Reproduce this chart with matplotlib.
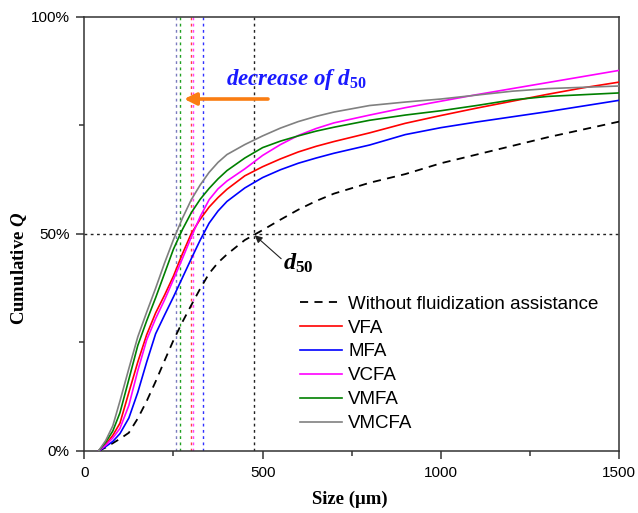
import matplotlib
matplotlib.use("Agg")
import matplotlib.pyplot as plt
from matplotlib.ticker import FixedLocator, FuncFormatter

plt.rcParams["font.family"] = ["Liberation Sans", "DejaVu Sans"]
plt.rcParams["mathtext.fontset"] = "custom"
plt.rcParams["mathtext.rm"] = "Liberation Serif"
plt.rcParams["mathtext.it"] = "Liberation Serif:italic"
plt.rcParams["mathtext.bf"] = "Liberation Serif:bold"
plt.rcParams["mathtext.bfit"] = "Liberation Serif:italic:bold"

# particle size (um) and cumulative Q (%)
size_um = [40, 60, 80, 100, 125, 150, 175, 200, 225, 250, 275, 300, 325, 350, 375,
           400, 450, 500, 550, 600, 650, 700, 800, 900, 1000, 1100, 1200, 1300,
           1400, 1500]
q_without = [0, 0.8, 1.8, 2.8, 4.2, 7.5, 11.5, 16.0, 20.8, 25.5, 29.7, 33.6, 37.4, 40.9,
             43.4, 45.3, 48.6, 50.9, 53.3, 55.6, 57.6, 59.3, 61.8, 63.8, 66.3, 68.3,
             70.3, 72.3, 74.1, 75.9]
q_vfa = [0, 1.5, 3.6, 6.4, 13.5, 20.5, 26.8, 31.8, 35.9, 40.3, 45.4, 50.1, 53.4, 56.2,
         58.4, 60.3, 63.4, 65.5, 67.3, 68.9, 70.2, 71.3, 73.3, 75.5, 77.3, 79.0,
         80.6, 82.2, 83.7, 85.0]
q_mfa = [0, 1.0, 2.2, 4.0, 7.6, 13.5, 20.5, 27.0, 31.3, 35.5, 39.9, 44.3, 48.6, 52.5,
         55.3, 57.5, 60.6, 63.0, 64.8, 66.3, 67.5, 68.6, 70.5, 72.9, 74.5, 75.8,
         77.0, 78.2, 79.5, 80.8]
q_vcfa = [0, 1.3, 3.0, 5.2, 10.5, 18.5, 25.6, 30.5, 34.8, 39.5, 44.3, 49.3, 54.0, 57.9,
          60.4, 62.2, 65.0, 68.1, 70.6, 72.7, 74.3, 75.6, 77.4, 79.1, 80.6, 82.1,
          83.5, 84.9, 86.3, 87.7]
q_vmfa = [0, 2.0, 4.6, 8.8, 16.5, 24.3, 30.0, 35.3, 40.9, 46.5, 51.0, 54.9, 58.0, 60.5,
          62.7, 64.6, 67.5, 69.9, 71.4, 72.6, 73.7, 74.6, 76.2, 77.4, 78.4, 79.6,
          80.9, 81.7, 82.1, 82.5]
q_vmcfa = [0, 2.4, 5.8, 11.5, 19.0, 26.3, 32.0, 37.5, 43.3, 48.7, 53.6, 57.9, 61.3, 64.2,
           66.5, 68.3, 70.6, 72.6, 74.4, 75.9, 77.1, 78.1, 79.6, 80.4, 81.1, 82.0,
           82.9, 83.5, 83.8, 84.1]

labels = ["VFA", "MFA", "VCFA", "VMFA", "VMCFA"]
colors = ["#ff0000", "#0000ff", "#ff00ff", "#008000", "#808080"]
series = [q_vfa, q_mfa, q_vcfa, q_vmfa, q_vmcfa]

# d50 values (um)
d50_without = 476
d50_vals = [300, 333, 306, 268, 257]
d50_colors = ["#ff4040", "#3030ff", "#ff40ff", "#20a020", "#7b7bbf"]

fig = plt.figure(figsize=(6.38, 5.13), dpi=100)
ax = fig.add_axes([0.1321, 0.1209, 0.8386, 0.8460])

dot = (0, (2, 2.5))
for x, c in zip(d50_vals, d50_colors):
    ax.axvline(x, color=c, lw=1.0, ls=dot, zorder=1)
ax.axvline(d50_without, color="#222222", lw=1.0, ls=dot, zorder=1)
ax.axhline(50, color="#222222", lw=1.0, ls=dot, zorder=1)

ax.plot(size_um, q_without, color="black", lw=1.3, ls=(0, (4.5, 3.5)),
        label="Without fluidization assistance", zorder=3)
for q, lab, c in zip(series, labels, colors):
    ax.plot(size_um, q, color=c, lw=1.2, label=lab, zorder=3)

ax.set_xlim(0, 1500)
ax.set_ylim(0, 100)
ax.xaxis.set_major_locator(FixedLocator([0, 500, 1000, 1500]))
ax.xaxis.set_minor_locator(FixedLocator([250, 750, 1250]))
ax.yaxis.set_major_locator(FixedLocator([0, 50, 100]))
ax.yaxis.set_minor_locator(FixedLocator([25, 75]))
ax.yaxis.set_major_formatter(FuncFormatter(lambda v, p: f"{v:.0f}%"))
ax.tick_params(which="major", direction="out", length=6, width=1.1,
               labelsize=11, color="#333333", pad=4.5)
ax.tick_params(which="minor", direction="out", length=3.5, width=1.1, color="#333333")
for s in ax.spines.values():
    s.set_linewidth(1.1)
    s.set_color("#333333")

ax.set_xlabel("Size (\u03bcm)", fontfamily="Liberation Serif", fontweight="bold",
              fontsize=13.5)
ax.set_ylabel(r"Cumulative $\mathbfit{Q}$", fontfamily="Liberation Serif",
              fontweight="bold", fontsize=13.5)
ax.yaxis.set_label_coords(-0.104, 0.42)
ax.xaxis.set_label_coords(0.497, -0.091)

# decrease arrow
ax.annotate("", xy=(280, 81.1), xytext=(515, 81.1),
            arrowprops=dict(arrowstyle="-|>", color="#fa7d12", lw=2.6,
                            mutation_scale=18, shrinkA=0, shrinkB=0))
ax.text(397, 84.3, r"decrease of $\mathbfit{d}_{\mathbf{50}}$", color="#1a1aff",
        fontfamily="Liberation Serif", fontweight="bold", fontstyle="italic",
        fontsize=16.5, va="baseline", ha="left")

# d50 marker
ax.annotate("", xy=(478, 49.7), xytext=(552, 44.3),
            arrowprops=dict(arrowstyle="-|>", color="#222222", lw=0.8,
                            mutation_scale=11, shrinkA=0, shrinkB=0))
ax.text(557, 41.7, r"$\mathbfit{d}_{\mathbf{50}}$", color="black",
        fontsize=17.5, va="baseline", ha="left")

leg = ax.legend(loc="upper left", bbox_to_anchor=(0.403, 0.358), frameon=False,
                fontsize=13.5, handlelength=2.25, handletextpad=0.32,
                labelspacing=0.36, borderpad=0, borderaxespad=0)

fig.savefig("out.png", dpi=100)
